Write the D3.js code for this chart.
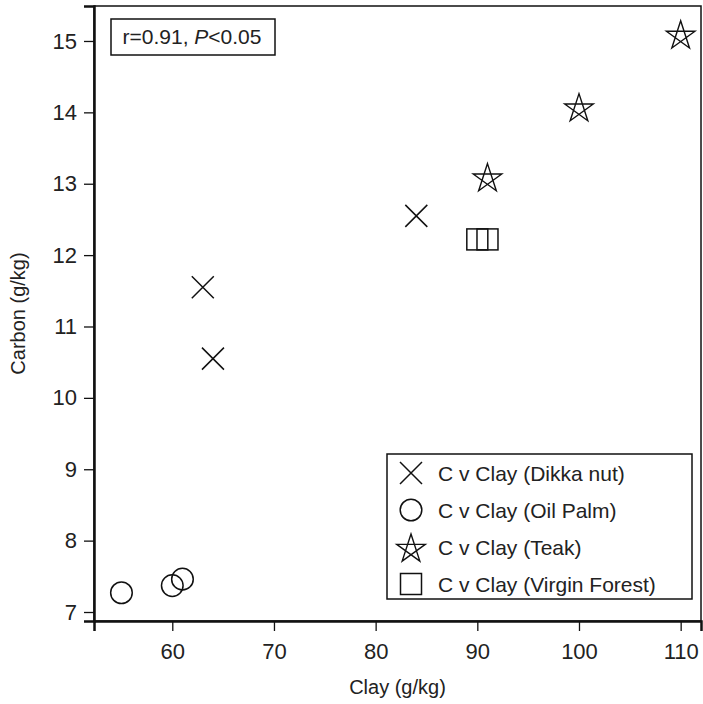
<!DOCTYPE html>
<html><head><meta charset="utf-8">
<script src="https://cdn.jsdelivr.net/npm/d3@7"></script>
<style>body{margin:0;background:#fff}text{font-family:"Liberation Sans",Arial,sans-serif;fill:#222}</style>
</head><body><svg id="c" width="703" height="704"></svg>
<script>
const dikkaClay = [63, 64, 84];
const dikkaC = [11.55, 10.55, 12.55];
const palmClay = [55, 60, 61];
const palmC = [7.27, 7.37, 7.46];
const teakClay = [91, 100, 110];
const teakC = [13.1, 14.08, 15.1];
const forestClay = [90, 91];
const forestC = [12.22, 12.22];
const xTicks = [60, 70, 80, 90, 100, 110];
const yTicks = [7, 8, 9, 10, 11, 12, 13, 14, 15];
const legendLabels = ["C v Clay (Dikka nut)", "C v Clay (Oil Palm)", "C v Clay (Teak)", "C v Clay (Virgin Forest)"];

const svg = d3.select("#c");
const L = 94, R = 701, T = 6, B = 621;
const x = d3.scaleLinear().domain([52.3, 112]).range([L, R]);
const y = d3.scaleLinear().domain([6.874, 15.49]).range([B, T]);
const ink = "#111";

// frame
svg.append("rect").attr("x", L).attr("y", T).attr("width", R - L).attr("height", B - T)
  .attr("fill", "none").attr("stroke", ink).attr("stroke-width", 1.5);

const xa = svg.append("g").attr("transform", `translate(0,${B})`)
  .call(d3.axisBottom(x).tickValues(xTicks).tickSize(10).tickPadding(12).tickFormat(d3.format("d")));
const ya = svg.append("g").attr("transform", `translate(${L},0)`)
  .call(d3.axisLeft(y).tickValues(yTicks).tickSize(10).tickPadding(7).tickFormat(d3.format("d")));
[xa, ya].forEach(a => {
  a.select(".domain").attr("stroke", ink).attr("stroke-width", 2.5);
  a.selectAll(".tick line").attr("stroke", ink).attr("stroke-width", 1.3);
  a.selectAll(".tick text").attr("font-size", 22).style("font-family", '"Liberation Sans",Arial,sans-serif').attr("fill", "#222");
});

svg.append("text").attr("x", (L + R) / 2).attr("y", 694).attr("text-anchor", "middle").attr("font-size", 20).text("Clay (g/kg)");
svg.append("text").attr("transform", `translate(25,${(T + B) / 2}) rotate(-90)`).attr("text-anchor", "middle").attr("font-size", 20).text("Carbon (g/kg)");

// marker drawers
function drawX(g, cx, cy) {
  const s = 11;
  g.append("path").attr("d", `M${cx - s},${cy - s}L${cx + s},${cy + s}M${cx - s},${cy + s}L${cx + s},${cy - s}`)
    .attr("stroke", ink).attr("stroke-width", 1.5).attr("fill", "none");
}
function drawO(g, cx, cy) {
  g.append("circle").attr("cx", cx).attr("cy", cy).attr("r", 10.8).attr("fill", "none").attr("stroke", ink).attr("stroke-width", 1.5);
}
function drawStar(g, cx, cy) {
  const r = 15, pts = [];
  for (let i = 0; i < 5; i++) {
    const a = -Math.PI / 2 + i * 4 * Math.PI / 5;
    pts.push([cx + r * Math.cos(a), cy + 2 + r * Math.sin(a)]);
  }
  g.append("path").attr("d", "M" + pts.map(p => p.join(",")).join("L") + "Z")
    .attr("stroke", ink).attr("stroke-width", 1.4).attr("fill", "none").attr("stroke-linejoin", "miter");
}
function drawSq(g, cx, cy) {
  const s = 21;
  g.append("rect").attr("x", cx - s / 2).attr("y", cy - s / 2).attr("width", s).attr("height", s)
    .attr("fill", "none").attr("stroke", ink).attr("stroke-width", 1.5);
}

const pts = svg.append("g");
dikkaClay.forEach((v, i) => drawX(pts, x(v), y(dikkaC[i])));
palmClay.forEach((v, i) => drawO(pts, x(v), y(palmC[i])));
teakClay.forEach((v, i) => drawStar(pts, x(v), y(teakC[i])));
forestClay.forEach((v, i) => drawSq(pts, x(v), y(forestC[i])));

// annotation box
svg.append("rect").attr("x", 111).attr("y", 19).attr("width", 164).attr("height", 36)
  .attr("fill", "#fff").attr("stroke", ink).attr("stroke-width", 1.5);
const ann = svg.append("text").attr("x", 192).attr("y", 44).attr("text-anchor", "middle").attr("font-size", 21);
ann.append("tspan").text("r=0.91, ");
ann.append("tspan").attr("font-style", "italic").text("P");
ann.append("tspan").text("<0.05");

// legend
const lg = svg.append("g");
lg.append("rect").attr("x", 387).attr("y", 454).attr("width", 305).attr("height", 145)
  .attr("fill", "#fff").attr("stroke", ink).attr("stroke-width", 1.5);
const drawers = [drawX, drawO, drawStar, drawSq];
legendLabels.forEach((lab, i) => {
  const cy = 473 + i * 37;
  drawers[i](lg, 411, cy);
  lg.append("text").attr("x", 438).attr("y", cy + 7.5).attr("font-size", 21).text(lab);
});
</script></body></html>
